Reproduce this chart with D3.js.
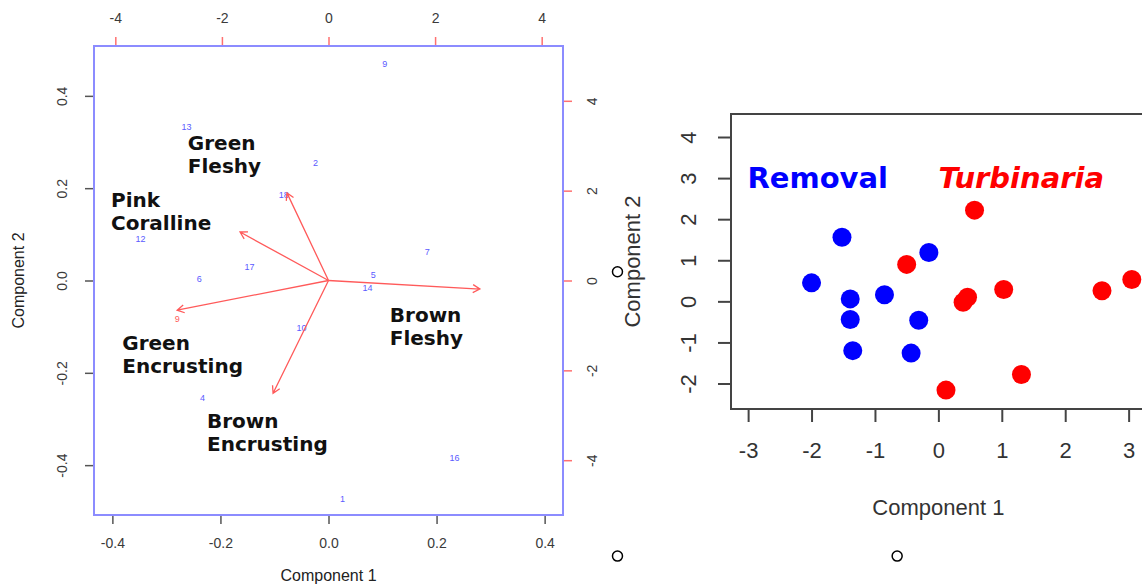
<!DOCTYPE html>
<html>
<head>
<meta charset="utf-8">
<script src="https://cdn.jsdelivr.net/npm/d3@7"></script>
<style>
  body { margin: 0; background: #fff; }
  svg { display: block; font-family: "Liberation Sans", Arial, sans-serif; }
</style>
</head>
<body>
<svg width="1142" height="586"></svg>
<script>
// ---- left panel: PCA biplot ----
// observation numbers and their scores
const obsIds = ['9', '13', '2', '18', '12', '17', '6', '7', '5', '14', '10', '4', '16', '1'];
const obsPc1 = [0.104, -0.263, -0.024, -0.083, -0.348, -0.146, -0.239, 0.183, 0.083, 0.072, -0.05, -0.233, 0.233, 0.026];
const obsPc2 = [0.470, 0.332, 0.254, 0.186, 0.091, 0.030, 0.004, 0.061, 0.013, -0.015, -0.102, -0.254, -0.384, -0.472];

// loadings (arrows)
const taxa = ['Brown Fleshy', 'Green Fleshy', 'Pink Coralline', 'Green Encrusting', 'Brown Encrusting'];
const loadPc1 = [2.84, -0.78, -1.66, -2.84, -1.04];
const loadPc2 = [-0.19, 1.95, 1.08, -0.66, -2.51];
// where the bold taxon names sit (loading units)
const labelPc1 = [1.15, -2.64, -4.08, -3.87, -2.28];
const labelPc2 = [-0.92, 2.91, 1.64, -1.55, -3.29];

const scoreTicks = [-0.4, -0.2, 0.0, 0.2, 0.4];
const loadTicks = [-4, -2, 0, 2, 4];

// ---- right panel: scores by treatment ----
const groups = ['Removal', 'Turbinaria'];
const groupColors = ['#0000ff', '#ff0000'];
const removalPc1 = [-2.0, -1.52, -0.15, -1.39, -0.85, -1.39, -0.31, -1.35, -0.43];
const removalPc2 = [0.45, 1.56, 1.19, 0.06, 0.16, -0.44, -0.46, -1.20, -1.26];
const turbPc1 = [-0.50, 0.57, 1.03, 2.58, 3.05, 0.39, 0.46, 0.12, 1.31];
const turbPc2 = [0.90, 2.22, 0.29, 0.26, 0.53, -0.02, 0.10, -2.16, -1.78];
const pcTicksX = [-3, -2, -1, 0, 1, 2, 3];
const pcTicksY = [-2, -1, 0, 1, 2, 3, 4];
// stray open points left on the canvas
const strayPc1 = [-5.06, -5.06, -0.65];
const strayPc2 = [0.72, -6.2, -6.2];

const svg = d3.select('svg');

// R prints a plain hyphen for negatives
const fmt1 = d => d.toFixed(1);
const fmt0 = d => String(d);

// rotate y-axis tick labels so they run along the axis (R style)
function rotateLabels(axisG, offset) {
    axisG.selectAll('.tick text')
        .attr('transform', 'rotate(-90)')
        .attr('x', 0)
        .attr('y', offset)
        .attr('dy', 0)
        .attr('text-anchor', 'middle');
}

// ================= left panel =================
const L = { x0: 94, x1: 563, y0: 46, y1: 515 };
const xScore = d3.scaleLinear().domain([-0.434, 0.434]).range([L.x0, L.x1]);
const yScore = d3.scaleLinear().domain([-0.508, 0.508]).range([L.y1, L.y0]);
const xLoad = d3.scaleLinear().domain([-4.40, 4.40]).range([L.x0, L.x1]);
const yLoad = d3.scaleLinear().domain([-5.22, 5.22]).range([L.y1, L.y0]);

const left = svg.append('g').attr('class', 'biplot');

const tickStyle = (g, col) => {
    g.select('.domain').remove();
    g.selectAll('.tick line').attr('stroke', col).attr('stroke-width', 1.5);
    g.selectAll('.tick text').attr('fill', '#3a3a3a').style('font-size', '14px')
        .style('font-family', '"Liberation Sans", Arial, sans-serif');
};

const axB = left.append('g').attr('transform', `translate(0,${L.y1})`)
    .call(d3.axisBottom(xScore).tickValues(scoreTicks).tickFormat(fmt1).tickSize(9).tickPadding(14));
tickStyle(axB, '#555');

const axL = left.append('g').attr('transform', `translate(${L.x0},0)`)
    .call(d3.axisLeft(yScore).tickValues(scoreTicks).tickFormat(fmt1).tickSize(9));
tickStyle(axL, '#555');
rotateLabels(axL, -27);

const axT = left.append('g').attr('transform', `translate(0,${L.y0})`)
    .call(d3.axisTop(xLoad).tickValues(loadTicks).tickFormat(fmt0).tickSize(9).tickPadding(14));
tickStyle(axT, '#ff7070');

const axR = left.append('g').attr('transform', `translate(${L.x1},0)`)
    .call(d3.axisRight(yLoad).tickValues(loadTicks).tickFormat(fmt0).tickSize(9));
tickStyle(axR, '#ff7070');
rotateLabels(axR, 34);

left.append('rect')
    .attr('x', L.x0).attr('y', L.y0)
    .attr('width', L.x1 - L.x0).attr('height', L.y1 - L.y0)
    .attr('fill', 'none').attr('stroke', '#8c8cff').attr('stroke-width', 2);

left.append('text')
    .attr('x', xScore(0)).attr('y', 581)
    .attr('text-anchor', 'middle').attr('fill', '#222')
    .style('font-size', '16px').text('Component 1');
left.append('text')
    .attr('transform', `translate(24,${yScore(0)}) rotate(-90)`)
    .attr('text-anchor', 'middle').attr('fill', '#222')
    .style('font-size', '16px').text('Component 2');

// observation numbers
left.append('g').selectAll('text')
    .data(obsIds)
    .enter().append('text')
    .attr('x', (d, i) => xScore(obsPc1[i]))
    .attr('y', (d, i) => yScore(obsPc2[i]))
    .attr('dy', '0.35em')
    .attr('text-anchor', 'middle')
    .attr('fill', '#5a5aff')
    .style('font-size', '9px')
    .text(d => d);

// arrows from the origin
const arrowCol = '#ff5a5a';
const arrows = left.append('g');
taxa.forEach((t, i) => {
    const x0 = xLoad(0), y0 = yLoad(0);
    const x1 = xLoad(loadPc1[i]), y1 = yLoad(loadPc2[i]);
    const ang = Math.atan2(y1 - y0, x1 - x0);
    const len = 8, spread = Math.PI / 6;
    const h1 = [x1 - len * Math.cos(ang - spread), y1 - len * Math.sin(ang - spread)];
    const h2 = [x1 - len * Math.cos(ang + spread), y1 - len * Math.sin(ang + spread)];
    arrows.append('path')
        .attr('d', `M${x0},${y0}L${x1},${y1}M${h1[0]},${h1[1]}L${x1},${y1}L${h2[0]},${h2[1]}`)
        .attr('fill', 'none')
        .attr('stroke', arrowCol)
        .attr('stroke-width', 1.3);
});

// leftover red variable label under Green Encrusting
left.append('text')
    .attr('x', xLoad(-2.84)).attr('y', yLoad(-0.86))
    .attr('dy', '0.35em').attr('text-anchor', 'middle')
    .attr('fill', '#ff5a5a').style('font-size', '9px').text('9');

// bold taxon names, two lines each
const names = left.append('g').selectAll('text')
    .data(taxa)
    .enter().append('text')
    .attr('x', (d, i) => xLoad(labelPc1[i]))
    .attr('y', (d, i) => yLoad(labelPc2[i]))
    .attr('fill', '#111')
    .style('font-family', '"DejaVu Sans", Verdana, sans-serif')
    .style('font-weight', 'bold')
    .style('font-size', '20px');
names.each(function(d, i) {
    const parts = d.split(' ');
    const t = d3.select(this);
    parts.forEach((p, k) => {
        t.append('tspan')
            .attr('x', xLoad(labelPc1[i]))
            .attr('dy', k === 0 ? 0 : 23)
            .text(p);
    });
});

// ================= right panel =================
const R = { x0: 731, x1: 1180, y0: 114, y1: 409 };
const xPc = d3.scaleLinear().domain([-3.27, 3.81]).range([R.x0, R.x1]);
const yPc = d3.scaleLinear().domain([-2.62, 4.56]).range([R.y1, R.y0]);

const right = svg.append('g').attr('class', 'scatter');

const styleR = g => {
    g.select('.domain').remove();
    g.selectAll('.tick line').attr('stroke', '#444').attr('stroke-width', 2);
    g.selectAll('.tick text').attr('fill', '#333').style('font-size', '22px')
        .style('font-family', '"Liberation Sans", Arial, sans-serif');
};

const rB = right.append('g').attr('transform', `translate(0,${R.y1})`)
    .call(d3.axisBottom(xPc).tickValues(pcTicksX).tickFormat(fmt0).tickSize(13).tickPadding(20));
styleR(rB);

const rL = right.append('g').attr('transform', `translate(${R.x0},0)`)
    .call(d3.axisLeft(yPc).tickValues(pcTicksY).tickFormat(fmt0).tickSize(13));
styleR(rL);
rotateLabels(rL, -35);

right.append('rect')
    .attr('x', R.x0).attr('y', R.y0)
    .attr('width', R.x1 - R.x0).attr('height', R.y1 - R.y0)
    .attr('fill', 'none').attr('stroke', '#444').attr('stroke-width', 2);

right.append('text')
    .attr('x', xPc(0)).attr('y', 515)
    .attr('text-anchor', 'middle').attr('fill', '#333')
    .style('font-size', '22px').text('Component 1');
right.append('text')
    .attr('transform', `translate(640,${(R.y0 + R.y1) / 2}) rotate(-90)`)
    .attr('text-anchor', 'middle').attr('fill', '#333')
    .style('font-size', '22px').text('Component 2');

const removal = removalPc1.map((v, i) => ({ x: v, y: removalPc2[i], g: 0 }));
const turb = turbPc1.map((v, i) => ({ x: v, y: turbPc2[i], g: 1 }));

right.append('g').selectAll('circle')
    .data(removal.concat(turb))
    .enter().append('circle')
    .attr('cx', d => xPc(d.x))
    .attr('cy', d => yPc(d.y))
    .attr('r', 9.5)
    .attr('fill', d => groupColors[d.g]);

// group legend written inside the plot
right.append('text')
    .attr('x', xPc(-3.01)).attr('y', yPc(2.76))
    .attr('fill', groupColors[0])
    .style('font-family', '"DejaVu Sans", Verdana, sans-serif')
    .style('font-weight', 'bold').style('font-size', '29px')
    .text(groups[0]);
right.append('text')
    .attr('x', xPc(0)).attr('y', yPc(2.76))
    .attr('fill', groupColors[1])
    .style('font-family', '"DejaVu Sans", Verdana, sans-serif')
    .style('font-weight', 'bold').style('font-style', 'italic').style('font-size', '29px')
    .text(groups[1]);

// open circles left over from another plot
svg.append('g').selectAll('circle')
    .data(strayPc1)
    .enter().append('circle')
    .attr('cx', d => xPc(d))
    .attr('cy', (d, i) => yPc(strayPc2[i]))
    .attr('r', 5)
    .attr('fill', 'none')
    .attr('stroke', '#000')
    .attr('stroke-width', 1.5);
</script>
</body>
</html>
